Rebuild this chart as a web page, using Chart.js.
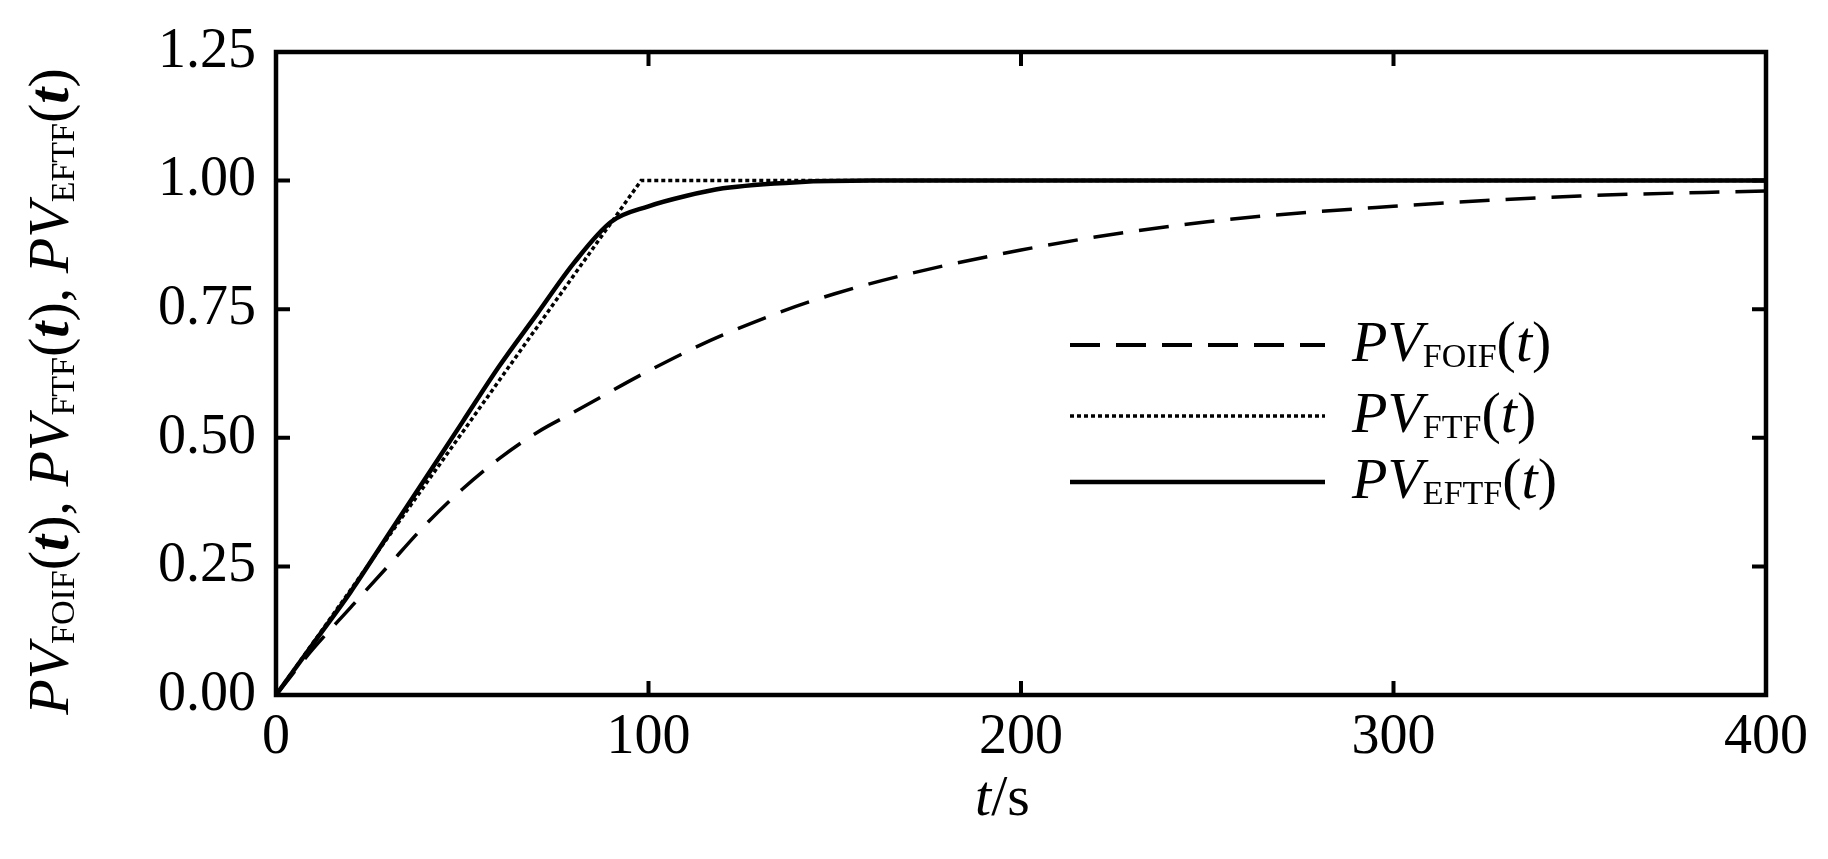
<!DOCTYPE html>
<html>
<head>
<meta charset="utf-8">
<script src="https://cdn.jsdelivr.net/npm/chart.js@4"></script>
<style>
  body { margin: 0; background: #fff; font-family: "Liberation Serif", serif; }
  #wrap { position: relative; width: 1828px; height: 859px; }
  .lbl { position: absolute; color: #000; white-space: nowrap; font-size: 58px; }
  .lbl sub { font-size: 34px; vertical-align: -6px; font-style: normal; }
  .lbl i { font-style: italic; }
  svg { position: absolute; left: 0; top: 0; }
</style>
</head>
<body>
<div id="wrap">
  <canvas id="c" width="1828" height="859"></canvas>
  <svg width="1828" height="859">
    <line x1="1070" y1="345" x2="1325" y2="345" stroke="#000" stroke-width="4" stroke-dasharray="30 16"/>
    <line x1="1070" y1="416" x2="1325" y2="416" stroke="#000" stroke-width="3.5" stroke-dasharray="4 3"/>
    <line x1="1070" y1="482" x2="1325" y2="482" stroke="#000" stroke-width="4.5"/>
  </svg>
  <div class="lbl" style="left:975px; top:762px;"><i>t</i>/s</div>
  <div class="lbl" style="left:-332px; top:358px; width:760px; text-align:center; transform: rotate(-90deg);">
    <i>PV</i><sub>FOIF</sub>(<i><b>t</b></i>), <i>PV</i><sub>FTF</sub>(<i><b>t</b></i>), <i>PV</i><sub>EFTF</sub>(<i><b>t</b></i>)
  </div>
  <div class="lbl" style="left:1352px; top:308px;"><i>PV</i><sub>FOIF</sub>(<i>t</i>)</div>
  <div class="lbl" style="left:1352px; top:379px;"><i>PV</i><sub>FTF</sub>(<i>t</i>)</div>
  <div class="lbl" style="left:1352px; top:445px;"><i>PV</i><sub>EFTF</sub>(<i>t</i>)</div>
</div>
<script>
const foifT = [0, 10, 20, 30, 40, 50, 60, 70, 80, 100, 120, 150, 200, 250, 300, 350, 400];
const foifV = [0, 0.09, 0.17, 0.25, 0.33, 0.40, 0.46, 0.51, 0.55, 0.63, 0.70, 0.78, 0.865, 0.92, 0.95, 0.97, 0.98];
const ftfT = [0, 98, 400];
const ftfV = [0, 1, 1];
const eftfT = [0, 10, 20, 30, 40, 50, 60, 70, 80, 90, 100, 110, 120, 140, 160, 400];
const eftfV = [0, 0.1, 0.2, 0.31, 0.42, 0.53, 0.64, 0.74, 0.84, 0.92, 0.95, 0.97, 0.985, 0.997, 1, 1];
const xTicks = [0, 100, 200, 300, 400];
const yTicks = [0, 0.25, 0.5, 0.75, 1, 1.25];

const pts = (t, v) => t.map((x, i) => ({ x: x, y: v[i] }));

const frame = {
  id: 'frame',
  afterDraw(chart) {
    const { ctx, chartArea: a, scales } = chart;
    ctx.save();
    ctx.strokeStyle = '#000';
    ctx.lineWidth = 4.5;
    ctx.strokeRect(a.left, a.top, a.right - a.left, a.bottom - a.top);
    ctx.lineWidth = 4;
    ctx.beginPath();
    xTicks.forEach(v => {
      const x = scales.x.getPixelForValue(v);
      ctx.moveTo(x, a.bottom); ctx.lineTo(x, a.bottom - 14);
      ctx.moveTo(x, a.top); ctx.lineTo(x, a.top + 14);
    });
    yTicks.forEach(v => {
      const y = scales.y.getPixelForValue(v);
      ctx.moveTo(a.left, y); ctx.lineTo(a.left + 14, y);
      ctx.moveTo(a.right, y); ctx.lineTo(a.right - 14, y);
    });
    ctx.stroke();
    ctx.restore();
  }
};

const tickFont = { family: 'Liberation Serif', size: 56 };

new Chart(document.getElementById('c').getContext('2d'), {
  type: 'line',
  data: {
    datasets: [
      { label: 'FOIF', data: pts(foifT, foifV), borderColor: '#000', borderWidth: 3.5, borderDash: [30, 16], cubicInterpolationMode: 'monotone', pointRadius: 0 },
      { label: 'FTF', data: pts(ftfT, ftfV), borderColor: '#000', borderWidth: 3.5, borderDash: [4, 3], pointRadius: 0 },
      { label: 'EFTF', data: pts(eftfT, eftfV), borderColor: '#000', borderWidth: 4.5, cubicInterpolationMode: 'monotone', pointRadius: 0 }
    ]
  },
  options: {
    responsive: false,
    animation: false,
    layout: { padding: { left: 0, top: 52, right: 62, bottom: 0 } },
    plugins: { legend: { display: false }, tooltip: { enabled: false } },
    scales: {
      x: {
        type: 'linear', min: 0, max: 400,
        afterFit: s => { s.height = 164; },
        afterBuildTicks: s => { s.ticks = xTicks.map(v => ({ value: v })); },
        grid: { display: false },
        border: { display: false },
        ticks: { font: tickFont, color: '#000', padding: 2 }
      },
      y: {
        min: 0, max: 1.25,
        afterFit: s => { s.width = 276; },
        afterBuildTicks: s => { s.ticks = yTicks.map(v => ({ value: v })); },
        grid: { display: false },
        border: { display: false },
        ticks: { font: tickFont, color: '#000', padding: 12, callback: v => v.toFixed(2) }
      }
    }
  },
  plugins: [frame]
});
</script>
</body>
</html>
